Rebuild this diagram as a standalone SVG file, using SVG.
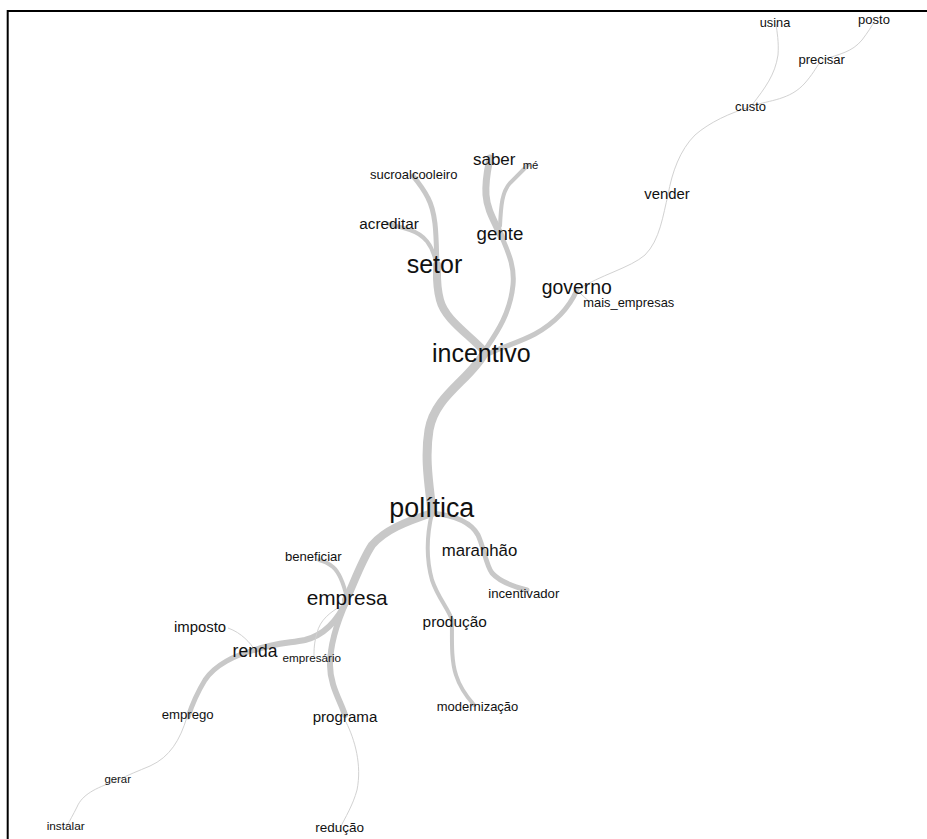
<svg xmlns="http://www.w3.org/2000/svg" width="927" height="839" viewBox="0 0 927 839">
<style>
.e{fill:none;stroke:#c8c8c8;stroke-linecap:round}
.t{fill:none;stroke:#d2d2d2;stroke-width:1}
text{font-family:"Liberation Sans",Arial,sans-serif;fill:#111;text-anchor:middle}
</style>
<rect x="0" y="0" width="927" height="839" fill="#fff"/>
<path d="M7.7,839 V11 H927" fill="none" stroke="#000" stroke-width="2"/>
<g id="connectors">
<path class="e" stroke-width="9" d="M485,352 C470,380 435,395 429,430 C424,460 430,490 432,512"/>
<path class="e" stroke-width="8" d="M485,352 C470,335 445,320 440,300 C436,285 437,275 437,265"/>
<path class="e" stroke-width="5" d="M437,268 C436,240 437,215 428,198 C423,188 418,182 413,176"/>
<path class="e" stroke-width="4" d="M436,262 C432,245 425,235 410,230 C400,227 393,225 388,224"/>
<path class="e" stroke-width="5" d="M485,350 C495,335 510,315 513,285 C515,265 507,250 501,235"/>
<path class="e" stroke-width="7" d="M501,236 C495,222 487,210 486,195 C485,180 488,168 490,158"/>
<path class="e" stroke-width="4" d="M500,226 C501,205 502,192 510,183 C517,176 523,170 528,165"/>
<path class="e" stroke-width="5" d="M490,353 C505,346 520,342 535,334 C553,324 568,310 577,290"/>
<path class="t" d="M577,290 C600,275 630,268 645,255 C660,240 663,215 668,195 C672,172 680,150 695,135 C710,122 730,113 750,107"/>
<path class="t" d="M752,105 C765,88 775,75 778,55 C779,42 777,32 776,24"/>
<path class="t" d="M752,106 C770,100 790,100 805,83 C812,75 816,68 820,62"/>
<path class="t" d="M822,60 C840,54 852,52 862,40 C868,32 872,26 875,20"/>
<path class="t" d="M577,290 C581,294 585,298 590,302"/>
<path class="e" stroke-width="8" d="M432,513 C405,522 385,530 372,545 C362,560 355,580 346,600"/>
<path class="e" stroke-width="5" d="M432,513 C450,515 470,520 478,535 C484,548 486,565 492,573 C500,582 515,587 527,590"/>
<path class="e" stroke-width="4" d="M432,513 C428,530 425,555 432,580 C438,598 448,608 452,620"/>
<path class="e" stroke-width="4" d="M452,620 C452,640 451,660 456,675 C460,688 467,697 474,705"/>
<path class="e" stroke-width="4" d="M347,598 C344,585 340,573 333,567 C328,563 324,561 319,560"/>
<path class="e" stroke-width="6" d="M347,600 C338,620 325,635 305,640 C290,643 275,643 255,650"/>
<path class="e" stroke-width="5" d="M255,650 C235,655 215,665 205,680 C197,693 192,705 188,717"/>
<path class="t" d="M255,650 C250,643 242,633 228,628"/>
<path class="t" d="M343,605 C330,612 320,620 317,633 C314,643 314,650 314,656"/>
<path class="e" stroke-width="6" d="M347,600 C338,620 330,645 330,665 C330,685 340,700 345,715"/>
<path class="t" d="M346,722 C355,740 362,765 357,790 C353,805 345,818 340,828"/>
<path class="t" d="M187,717 C180,740 170,757 150,766 C138,771 128,775 118,780"/>
<path class="t" d="M116,781 C95,788 82,795 77,807 C73,815 70,820 67,826"/>
</g>
<g id="n-usina"><text x="775" y="27.3" font-size="12.8">usina</text></g>
<g id="n-posto"><text x="874" y="24" font-size="13">posto</text></g>
<g id="n-precisar"><text x="821.7" y="64" font-size="13.1">precisar</text></g>
<g id="n-custo"><text x="750.5" y="110.7" font-size="13">custo</text></g>
<g id="n-vender"><text x="667" y="199" font-size="14.9">vender</text></g>
<g id="n-governo"><text x="576.7" y="294" font-size="19.4">governo</text></g>
<g id="n-mais_empresas"><text x="628.8" y="307.3" font-size="12.9">mais_empresas</text></g>
<g id="n-saber"><text x="494.2" y="165" font-size="17">saber</text></g>
<g id="n-me"><text x="530.5" y="169" font-size="11.3">mé</text></g>
<g id="n-sucroalcooleiro"><text x="413.7" y="179.3" font-size="13">sucroalcooleiro</text></g>
<g id="n-acreditar"><text x="389" y="229.3" font-size="15.3">acreditar</text></g>
<g id="n-gente"><text x="500" y="239.5" font-size="18.7">gente</text></g>
<g id="n-setor"><text x="434.5" y="273.3" font-size="25">setor</text></g>
<g id="n-incentivo"><text x="481.3" y="361.7" font-size="25">incentivo</text></g>
<g id="n-politica"><text x="431.8" y="517.3" font-size="26.8">política</text></g>
<g id="n-maranhao"><text x="479.5" y="556" font-size="16.8">maranhão</text></g>
<g id="n-beneficiar"><text x="313.3" y="561" font-size="13.1">beneficiar</text></g>
<g id="n-empresa"><text x="347.2" y="605" font-size="20.8">empresa</text></g>
<g id="n-incentivador"><text x="523.8" y="598.3" font-size="13.2">incentivador</text></g>
<g id="n-producao"><text x="454.7" y="626.7" font-size="15.4">produção</text></g>
<g id="n-imposto"><text x="200" y="631.7" font-size="14.9">imposto</text></g>
<g id="n-renda"><text x="255" y="657.3" font-size="17.5">renda</text></g>
<g id="n-empresario"><text x="311.8" y="661.7" font-size="11.7">empresário</text></g>
<g id="n-emprego"><text x="187.7" y="719.3" font-size="13.2">emprego</text></g>
<g id="n-programa"><text x="345" y="721.7" font-size="15.1">programa</text></g>
<g id="n-modernizacao"><text x="477.5" y="710.7" font-size="13">modernização</text></g>
<g id="n-gerar"><text x="117.7" y="782.7" font-size="11.4">gerar</text></g>
<g id="n-instalar"><text x="65.7" y="830" font-size="11.8">instalar</text></g>
<g id="n-reducao"><text x="339.7" y="831.7" font-size="13.5">redução</text></g>
</svg>
